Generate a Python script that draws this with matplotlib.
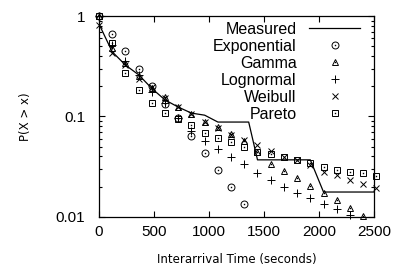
import numpy as np
import matplotlib
matplotlib.use("Agg")
import matplotlib.pyplot as plt
from matplotlib.lines import Line2D

# === Datos ===
STEP = 120  # segundos entre puntos de los ajustes

measured_x = [0, 120, 240, 360, 480, 600, 720, 840, 960, 1080, 1360, 1440, 1920, 2040, 2520]
measured_y = [0.83, 0.44, 0.325, 0.26, 0.19, 0.146, 0.124, 0.108, 0.103, 0.088, 0.088,
              0.037, 0.037, 0.0177, 0.0177]

exponential = [1.0, 0.66, 0.45, 0.30, 0.20, 0.133, 0.097, 0.064, 0.043, 0.029, 0.020, 0.0134]
gamma = [1.0, 0.48, 0.34, 0.25, 0.19, 0.156, 0.124, 0.106, 0.088, 0.079, 0.067, 0.057,
         0.044, 0.034, 0.0286, 0.0244, 0.0204, 0.0173, 0.0148, 0.0123, 0.0102]
lognormal = [1.0, 0.52, 0.36, 0.26, 0.175, 0.136, 0.097, 0.072, 0.057, 0.047, 0.0395,
             0.0337, 0.0275, 0.0235, 0.020, 0.0174, 0.0155, 0.0134, 0.012, 0.0105]
weibull = [0.81, 0.43, 0.325, 0.236, 0.196, 0.153, 0.124, 0.106, 0.088, 0.077, 0.0656,
           0.0585, 0.052, 0.0454, 0.0395, 0.0369, 0.033, 0.028, 0.0262, 0.0234, 0.0213, 0.0195]
pareto = [1.0, 0.54, 0.27, 0.184, 0.136, 0.108, 0.095, 0.082, 0.0685, 0.061, 0.0558,
          0.0497, 0.0443, 0.042, 0.0395, 0.0369, 0.0344, 0.0315, 0.0294, 0.028, 0.0274, 0.0256]

x_ticks = [0, 500, 1000, 1500, 2000, 2500]
y_ticks = [0.01, 0.1, 1]
y_ticklabels = ["0.01", "0.1", "1"]

TICK_FONT = "Liberation Sans"

fig = plt.figure(figsize=(3.93, 2.76), dpi=100)
ax = fig.add_axes([0.252, 0.214, 0.700, 0.728])

ax.plot(measured_x, measured_y, color="black", lw=0.9)

def dibujar(vals, marker, size, dot):
    x = np.arange(len(vals)) * STEP
    h = ax.plot(x, vals, ls="none", marker=marker, ms=size, mfc="none", mec="black",
                mew=0.7, clip_on=False)[0]
    handles = [h]
    if dot:
        d = ax.plot(x, vals, ls="none", marker="s", ms=1.0, mfc="black", mec="black",
                    mew=0.0, clip_on=False)[0]
        handles.append(d)
    return tuple(handles)

h_exp = dibujar(exponential, "o", 5.0, True)
h_gam = dibujar(gamma, "^", 5.0, True)
h_log = dibujar(lognormal, "+", 5.5, False)
h_wei = dibujar(weibull, "x", 4.8, False)
h_par = dibujar(pareto, "s", 4.8, True)

ax.set_yscale("log")
ax.set_xlim(0, 2500)
ax.set_ylim(0.01, 1)
ax.set_xticks(x_ticks)
ax.set_xticklabels([str(t) for t in x_ticks], fontname=TICK_FONT, fontsize=11)
ax.set_yticks(y_ticks)
ax.set_yticklabels(y_ticklabels, fontname=TICK_FONT, fontsize=11)
ax.tick_params(which="both", direction="in", top=True, right=True, width=0.8)
ax.tick_params(which="major", length=4)
ax.tick_params(axis="x", which="major", pad=6)
ax.tick_params(axis="y", which="major", pad=10)
ax.tick_params(which="minor", length=2)
for s in ax.spines.values():
    s.set_linewidth(0.9)

ax.set_xlabel("Interarrival Time (seconds)", fontsize=8.5, labelpad=10)
ax.set_ylabel("P(X > x)", fontsize=8.5, labelpad=17)

h_meas = Line2D([], [], color="black", lw=0.9)
leg = ax.legend([h_meas, h_exp, h_gam, h_log, h_wei, h_par],
                ["Measured", "Exponential", "Gamma", "Lognormal", "Weibull", "Pareto"],
                loc="upper right", bbox_to_anchor=(0.985, 1.02), frameon=False,
                markerfirst=False, handlelength=3.2, handletextpad=0.8,
                labelspacing=0.13, borderaxespad=0.2,
                prop={"family": TICK_FONT, "size": 11.5})
for t in leg.get_texts():
    t.set_ha("right")
leg._legend_box.align = "right"

fig.savefig("out.png", dpi=100)
